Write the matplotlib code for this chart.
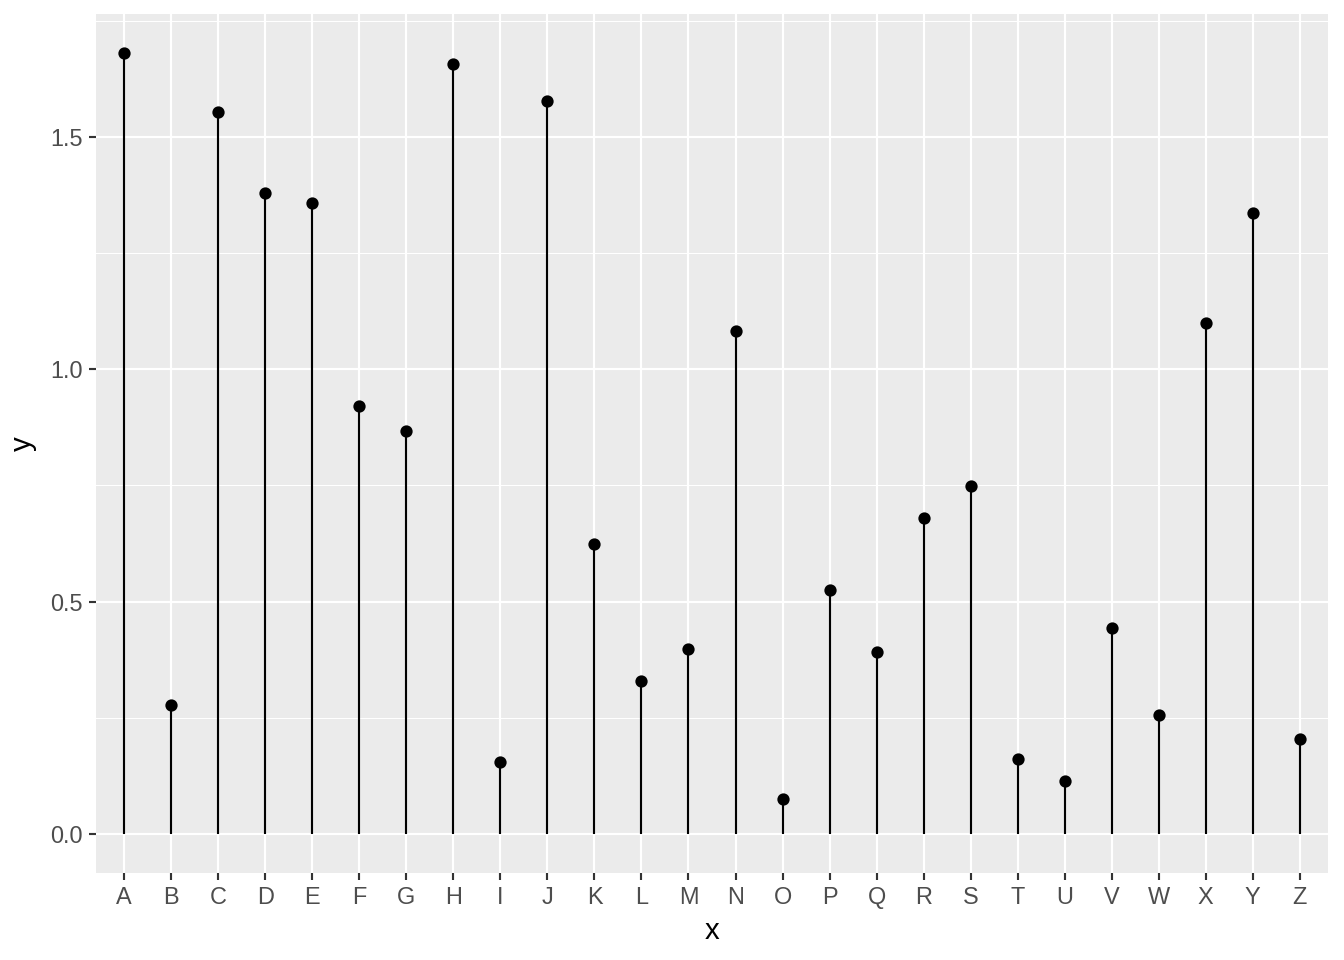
import matplotlib
matplotlib.use("Agg")
import matplotlib.pyplot as plt
import numpy as np

# lollipop: one value per letter
categories = list("ABCDEFGHIJKLMNOPQRSTUVWXYZ")
values = [1.680, 0.277, 1.553, 1.378, 1.357, 0.920, 0.867, 1.656, 0.155, 1.576,
          0.624, 0.329, 0.398, 1.082, 0.075, 0.525, 0.391, 0.680, 0.748, 0.161,
          0.114, 0.443, 0.256, 1.099, 1.335, 0.204]
yticks = [0.0, 0.5, 1.0, 1.5]
yminor = [0.25, 0.75, 1.25, 1.75]

plt.rcParams['font.family'] = ['Liberation Sans', 'DejaVu Sans']

fig = plt.figure(figsize=(7, 5), dpi=192)
ax = fig.add_axes([96/1344, 87/960, (1328-96)/1344, (873-14)/960])
ax.set_facecolor("#EBEBEB")

x = np.arange(len(categories))
ax.vlines(x, 0, values, color="black", linewidth=0.8, zorder=3)
ax.plot(x, values, "o", color="black", markersize=3.6, zorder=4)

ax.set_xlim(-0.6, len(categories) - 0.4)
span = max(values)
ax.set_ylim(-0.05 * span, 1.05 * span)
ax.set_xticks(x)
ax.set_xticklabels(categories)
ax.set_yticks(yticks)
ax.set_yticklabels([f"{v:.1f}" for v in yticks])
ax.set_yticks(yminor, minor=True)

ax.grid(which="major", color="white", linewidth=0.8, zorder=0)
ax.grid(which="minor", axis="y", color="white", linewidth=0.4, zorder=0)
ax.set_axisbelow(True)
for s in ax.spines.values():
    s.set_visible(False)

ax.tick_params(which="major", length=2.75, width=0.8, color="#333333",
               labelsize=8.8, labelcolor="#4D4D4D", pad=2.2)
ax.tick_params(which="minor", length=0)

ax.set_xlabel("x", fontsize=11, color="black", labelpad=3)
ax.set_ylabel("y", fontsize=11, color="black", labelpad=5)

fig.savefig("out.png", dpi=192)
